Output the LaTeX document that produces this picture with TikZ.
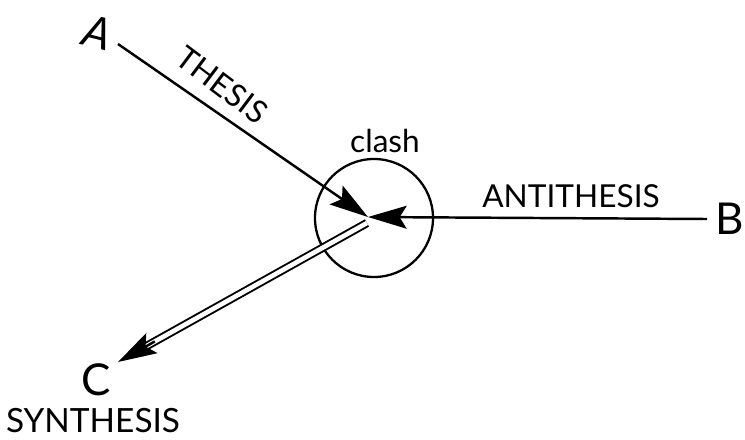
\documentclass[tikz,border=0pt]{standalone}
\usepackage{fontspec}
\setmainfont{Lato}
\usetikzlibrary{arrows.meta,calc,positioning}

\tikzset{
  point/.style={font=\fontsize{25}{29}\selectfont,inner sep=1pt},
  caption/.style={font=\fontsize{18}{21}\selectfont,inner sep=1pt},
  head/.style={-{Stealth[length=22pt,width=13pt,inset=4pt]},line width=1.4pt}
}

\begin{document}
\begin{tikzpicture}[x=0.02cm,y=-0.02cm]
    \useasboundingbox (0,0) rectangle (745,440);

    % end points
    \node[point,font=\fontsize{25}{29}\selectfont\itshape,rotate=-14] (A) at (98,33) {A};
    \node[point] (B) at (730,219) {B};
    \node[point] (C) at (96,380) {C};
    \node[caption,font=\fontsize{19}{22}\selectfont] (synthlabel) at (93,421) {SYNTHESIS};

    % meeting point and circle
    \coordinate (meet) at (368,217);
    \coordinate (split) at (367,223);
    \node[draw,circle,line width=1.3pt,minimum size=118*0.02cm,inner sep=0pt]
      (clash) at (374,218) {};
    \node[font=\fontsize{18}{21}\selectfont,inner sep=1pt] (clashlabel) at (385,141) {clash};

    % thesis and antithesis
    \coordinate (Aend) at (118,44);
    \coordinate (Bend) at (707,219);
    \draw[head] (Aend) -- (meet);
    \draw[head] (Bend) -- (meet);
    \node[caption,rotate=-37] (thesislabel) at (222,85) {THESIS};
    \node[caption] (antilabel) at (571,196) {ANTITHESIS};

    % synthesis
    \coordinate (Ctip) at (118,362);
    \draw[line width=1.1pt,double,double distance=2.6pt,shorten >=16pt] (split) -- (Ctip);
    \draw[head] ($(Ctip)!24pt!(split)$) -- (Ctip);
\end{tikzpicture}
\end{document}
